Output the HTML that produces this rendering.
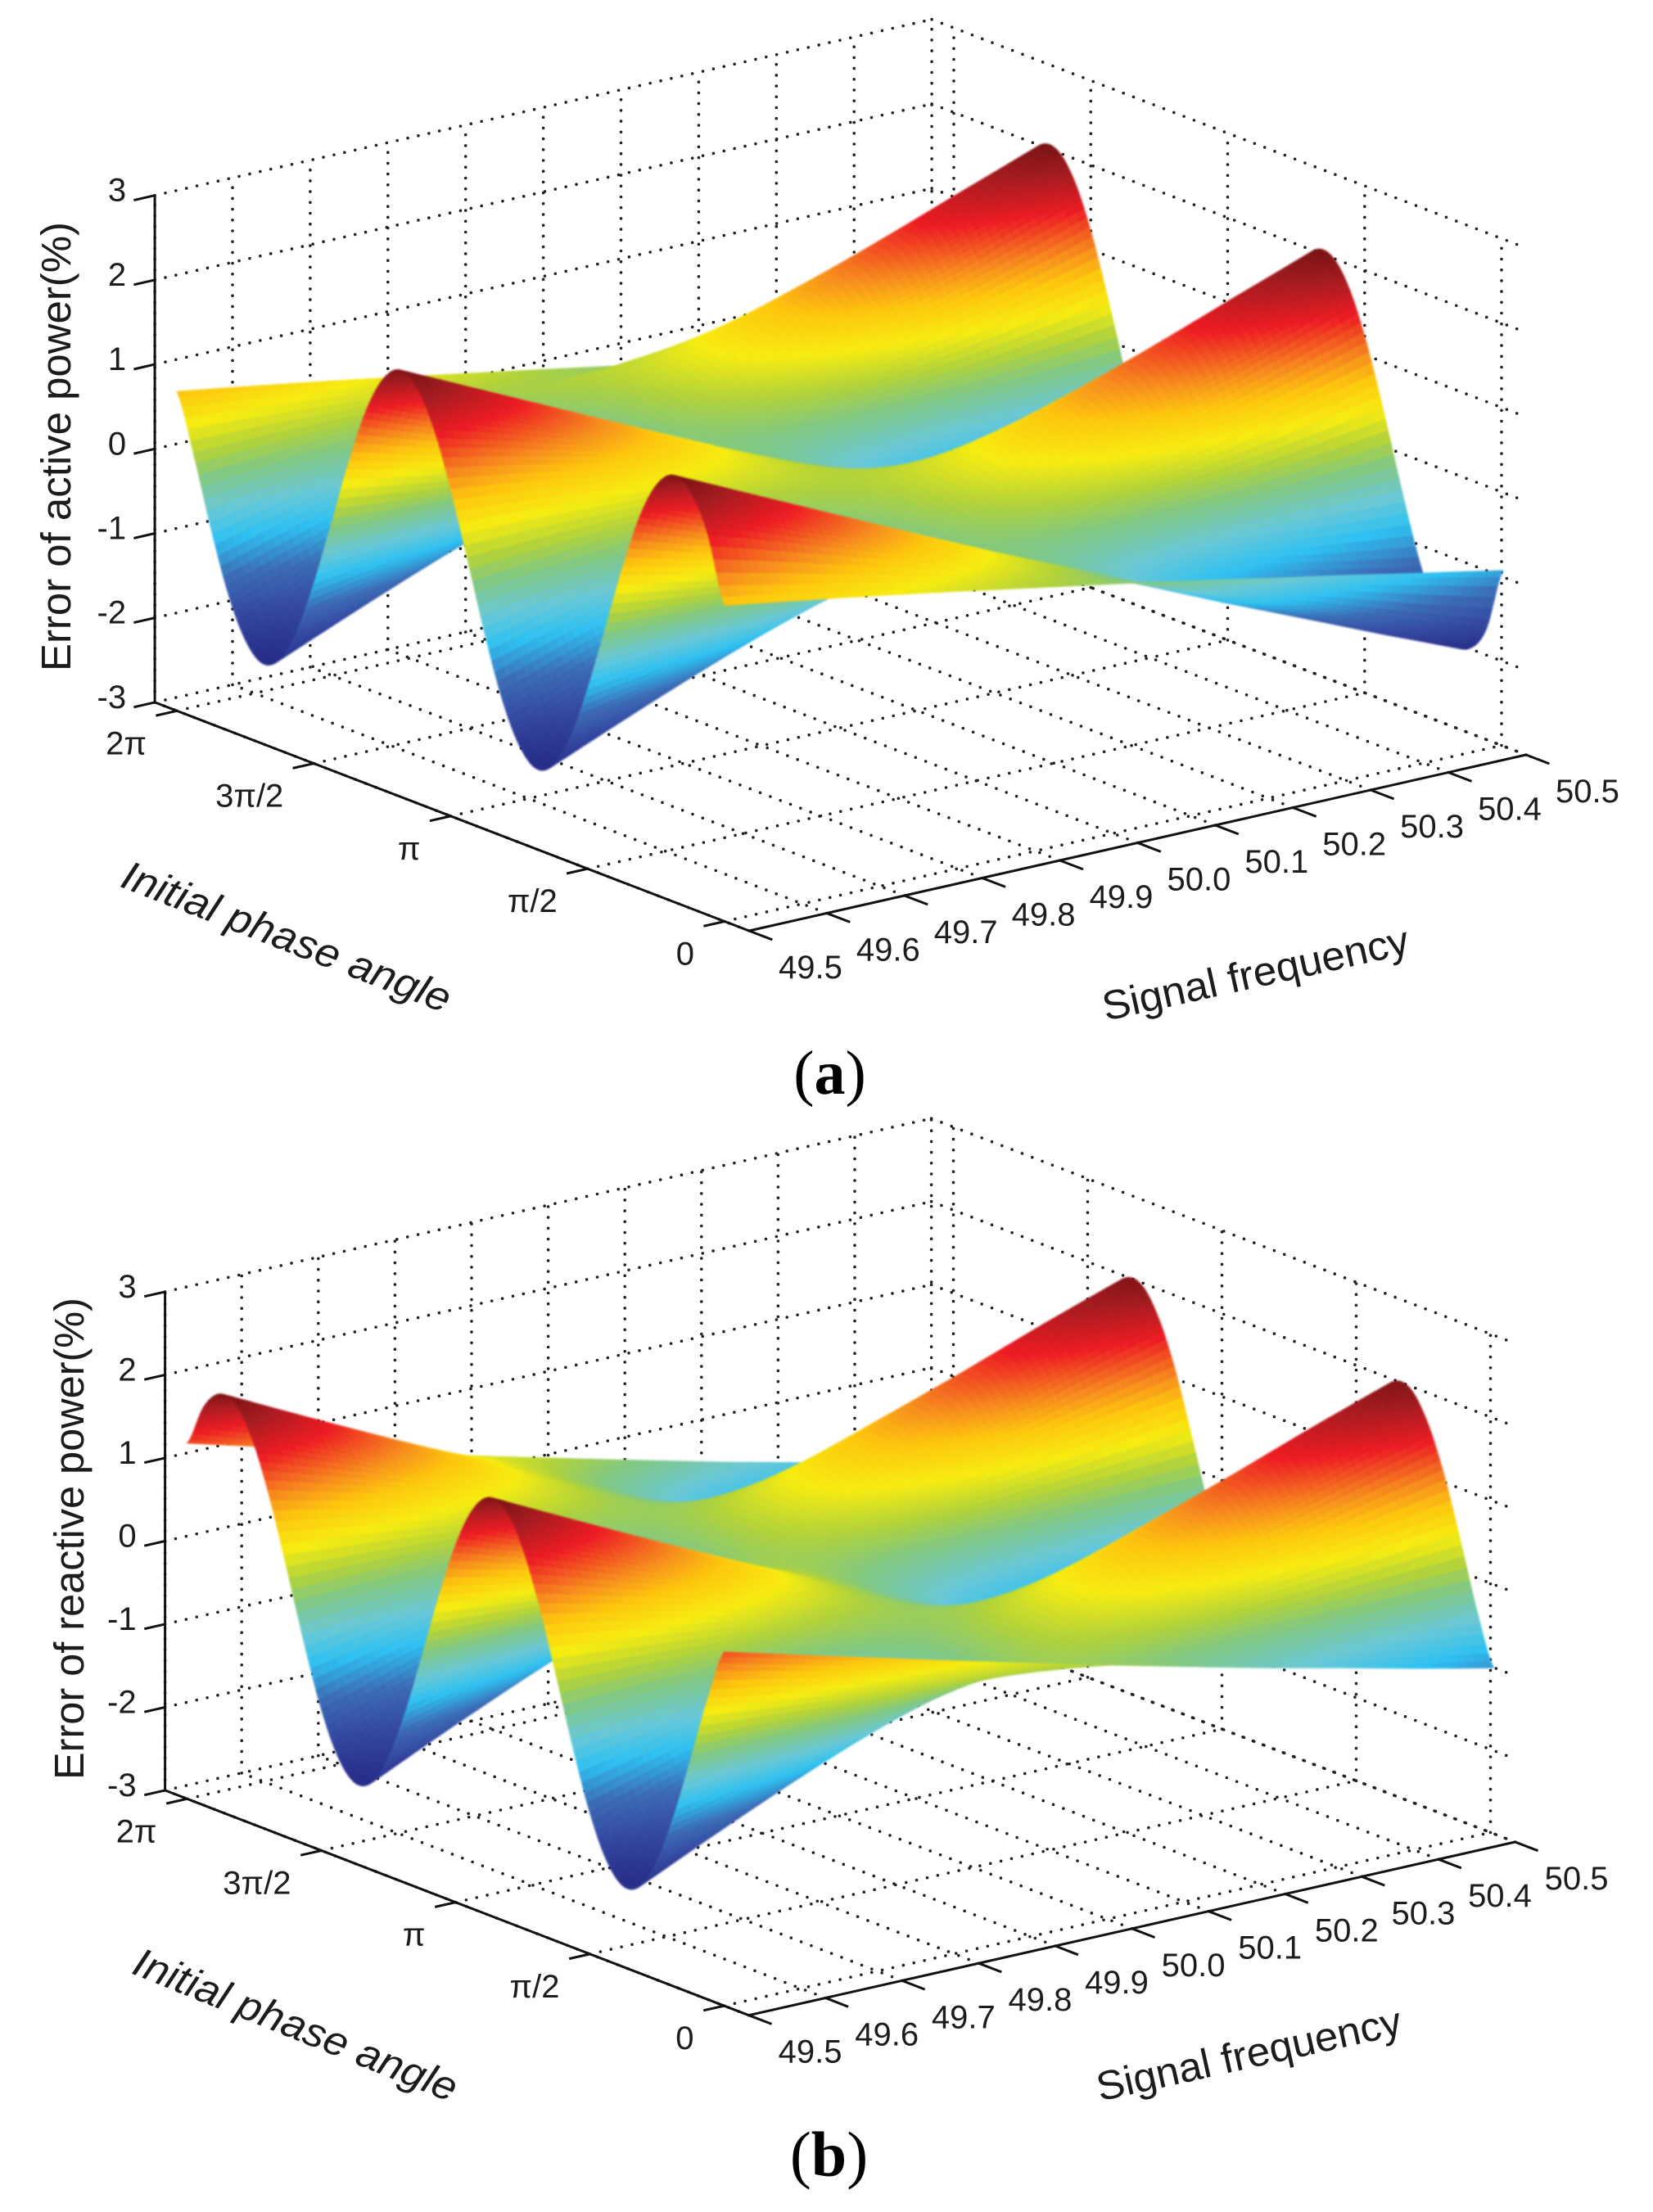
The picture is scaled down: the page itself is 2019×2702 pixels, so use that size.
<!DOCTYPE html>
<html lang="en">
<head>
<meta charset="utf-8">
<title>Error of active and reactive power surfaces</title>
<style>
html,body{margin:0;padding:0;background:#fff;}
body{width:2019px;height:2702px;overflow:hidden;}
svg{display:block;}
text{font-family:"Liberation Sans",sans-serif;fill:#1c1c1c;}
.cap{font-family:"Liberation Serif",serif;fill:#000;}
</style>
</head>
<body>
<svg id="figure" xmlns="http://www.w3.org/2000/svg" width="2019" height="2702" viewBox="0 0 2019 2702">
  <defs>
    <filter id="soft" x="-2%" y="-2%" width="104%" height="104%" color-interpolation-filters="sRGB">
      <feGaussianBlur stdDeviation="1"/>
    </filter>
  </defs>
  <rect width="2019" height="2702" fill="#fff"/>
  <g id="panel-a"></g>
  <g id="panel-b"></g>

  <text transform="translate(86,545.5) rotate(-90)" text-anchor="middle" font-size="51" textLength="549" lengthAdjust="spacingAndGlyphs">Error of active power(%)</text>
  <text transform="translate(349,1147) rotate(21.3)" x="0" y="14" text-anchor="middle" font-size="50" font-style="italic" textLength="427" lengthAdjust="spacingAndGlyphs">Initial phase angle</text>
  <text transform="translate(1534,1192) rotate(-12.5)" x="0" y="14" text-anchor="middle" font-size="50" textLength="382" lengthAdjust="spacingAndGlyphs">Signal frequency</text>
  <text class="cap" x="1013.5" y="1336" text-anchor="middle" font-size="76">(<tspan font-weight="bold">a</tspan>)</text>

  <text transform="translate(102,1879.5) rotate(-90)" text-anchor="middle" font-size="51" textLength="589" lengthAdjust="spacingAndGlyphs">Error of reactive power(%)</text>
  <text transform="translate(360,2476) rotate(22)" x="0" y="14" text-anchor="middle" font-size="50" font-style="italic" textLength="422" lengthAdjust="spacingAndGlyphs">Initial phase angle</text>
  <text transform="translate(1526,2512) rotate(-12.5)" x="0" y="14" text-anchor="middle" font-size="50" textLength="380" lengthAdjust="spacingAndGlyphs">Signal frequency</text>
  <text class="cap" x="1012.5" y="2658" text-anchor="middle" font-size="78">(<tspan font-weight="bold">b</tspan>)</text>
</svg>

<script>
// Tick values and labels
const frequencyTicks = [49.5, 49.6, 49.7, 49.8, 49.9, 50.0, 50.1, 50.2, 50.3, 50.4, 50.5];
const frequencyLabels = ['49.5', '49.6', '49.7', '49.8', '49.9', '50.0', '50.1', '50.2', '50.3', '50.4', '50.5'];
const phaseTicks = [0, 1, 2, 3, 4]; // units of pi/2
const phaseLabels = ['0', 'π/2', 'π', '3π/2', '2π'];
const errorTicks = [-3, -2, -1, 0, 1, 2, 3];

// Error (%) along the two frequency edges, sampled every pi/16 of initial phase from 0 to 2*pi
const activeErrorAt495 = [0.74, 1.52, 1.93, 2.05, 1.85, 1.38, 0.69, -0.10, -0.87, -1.52, -1.93, -2.05, -1.85, -1.38, -0.69, 0.10, 0.87, 1.52, 1.93, 2.05, 1.85, 1.38, 0.69, -0.10, -0.87, -1.52, -1.93, -2.05, -1.85, -1.38, -0.69, 0.10, 0.78];
const activeErrorAt505 = [-0.93, -1.71, -2.01, -2.01, -1.70, -1.13, -0.38, 0.42, 1.15, 1.71, 2.01, 2.01, 1.70, 1.13, 0.38, -0.42, -1.15, -1.71, -2.01, -2.01, -1.70, -1.13, -0.38, 0.42, 1.15, 1.71, 2.01, 2.01, 1.70, 1.13, 0.38, -0.42, -0.85];
const reactiveErrorAt495 = [1.26, 0.60, -0.19, -0.95, -1.57, -1.95, -2.03, -1.80, -1.30, -0.60, 0.19, 0.95, 1.57, 1.95, 2.03, 1.80, 1.30, 0.60, -0.19, -0.95, -1.57, -1.95, -2.03, -1.80, -1.30, -0.60, 0.19, 0.95, 1.57, 1.95, 2.03, 1.80, 1.28];
const reactiveErrorAt505 = [-1.02, -0.41, 0.37, 1.10, 1.65, 1.96, 1.96, 1.67, 1.12, 0.41, -0.37, -1.10, -1.65, -1.96, -1.96, -1.67, -1.12, -0.41, 0.37, 1.10, 1.65, 1.96, 1.96, 1.67, 1.12, 0.41, -0.37, -1.10, -1.65, -1.96, -1.96, -1.67, -1.05];

// Extra error (%) at mid frequency, sampled on the same phase steps
const activeMidBow = [0.08, 0.10, 0.08, -0.03, -0.13, -0.22, -0.27, -0.28, -0.25, -0.18, -0.08, 0.03, 0.13, 0.22, 0.27, 0.28, 0.25, 0.18, 0.08, -0.03, -0.13, -0.22, -0.27, -0.28, -0.25, -0.18, -0.08, 0.03, 0.13, 0.22, 0.27, 0.20, 0.08];
const reactiveMidBow = [-0.04, -0.11, -0.06, -0.01, 0.05, 0.10, 0.14, 0.15, 0.14, 0.11, 0.06, 0.01, -0.05, -0.10, -0.14, -0.15, -0.14, -0.11, -0.06, -0.01, 0.05, 0.10, 0.14, 0.15, 0.14, 0.11, 0.06, 0.01, -0.05, -0.10, -0.14, -0.10, -0.04];

// Share of the 50.5 Hz edge in the error at each frequency tick
const activeEdgeShare = [0, 0.105, 0.21, 0.315, 0.42, 0.52, 0.62, 0.72, 0.815, 0.91, 1];
const reactiveEdgeShare = [0, 0.1025, 0.205, 0.3075, 0.41, 0.51, 0.61, 0.71, 0.805, 0.905, 1];

// Colour ramp
const rampLevels = [-2.05, -1.6, -1.2, -0.82, -0.5, -0.15, 0.1, 0.42, 0.75, 1.0, 1.43, 1.8, 2.05];
const rampColors = [[38,43,134],[52,72,160],[60,108,181],[47,193,241],[106,200,214],[130,200,130],[176,210,60],[247,236,17],[253,198,14],[247,143,30],[237,28,36],[164,28,32],[122,19,21]];

const SVGNS = 'http://www.w3.org/2000/svg';

function rampColor(z) {
  if (z <= rampLevels[0]) return 'rgb(' + rampColors[0].join(',') + ')';
  for (let i = 1; i < rampLevels.length; i++) {
    if (z <= rampLevels[i]) {
      const w = (z - rampLevels[i - 1]) / (rampLevels[i] - rampLevels[i - 1]);
      const a = rampColors[i - 1], b = rampColors[i];
      return 'rgb(' + Math.round(a[0] + (b[0] - a[0]) * w) + ',' + Math.round(a[1] + (b[1] - a[1]) * w) + ',' + Math.round(a[2] + (b[2] - a[2]) * w) + ')';
    }
  }
  return 'rgb(' + rampColors[rampColors.length - 1].join(',') + ')';
}

function sampleCurve(arr, u) {
  // smooth rendering between the read samples; u is in units of pi/2
  const pos = u / 4 * (arr.length - 1);
  const i = Math.max(0, Math.min(arr.length - 2, Math.floor(pos)));
  const s = pos - i;
  const p0 = arr[Math.max(0, i - 1)], p1 = arr[i], p2 = arr[i + 1], p3 = arr[Math.min(arr.length - 1, i + 2)];
  return 0.5 * (2 * p1 + (p2 - p0) * s + (2 * p0 - 5 * p1 + 4 * p2 - p3) * s * s + (3 * p1 - p0 - 3 * p2 + p3) * s * s * s);
}

function sampleShare(arr, t) {
  const pos = Math.max(0, Math.min(arr.length - 1, t * (arr.length - 1)));
  const i = Math.min(arr.length - 2, Math.floor(pos));
  return arr[i] + (arr[i + 1] - arr[i]) * (pos - i);
}

function drawPanel(host, geo, edgeLow, edgeHigh, share, bow, prefix) {
  const fMin = frequencyTicks[0];
  const fMax = frequencyTicks[frequencyTicks.length - 1];
  const freqAxis = f => (f - fMin) / (fMax - fMin);
  const project = (t, u, z) => [
    geo.x0 + geo.tx * t - geo.ux * u,
    geo.y0 - geo.ty * t - geo.uy * u - (z + 3) * geo.zs
  ];
  const projectSurface = (t, u, z) => [
    geo.x0 + geo.surfaceTx * t - geo.ux * u,
    geo.y0 - geo.ty * t - geo.uy * u - (z + 3) * geo.zs
  ];

  const gridGroup = document.createElementNS(SVGNS, 'g');
  
  
  host.appendChild(gridGroup);

  const surfaceGroup = document.createElementNS(SVGNS, 'g');
  surfaceGroup.setAttribute('filter', 'url(#soft)');
  
  

  function line(a, b, parent, name, dotted) {
    const el = document.createElementNS(SVGNS, 'line');
    el.setAttribute('x1', a[0].toFixed(1));
    el.setAttribute('y1', a[1].toFixed(1));
    el.setAttribute('x2', b[0].toFixed(1));
    el.setAttribute('y2', b[1].toFixed(1));
    el.setAttribute('stroke', dotted ? '#222' : '#111');
    if (dotted) {
      el.setAttribute('stroke-width', '3.6');
      el.setAttribute('stroke-linecap', 'round');
      el.setAttribute('stroke-dasharray', '0 13.2');
    } else {
      el.setAttribute('stroke-width', '3');
    }
    
    
    parent.appendChild(el);
    return el;
  }

  function label(str, x, y, anchor, name) {
    const el = document.createElementNS(SVGNS, 'text');
    el.setAttribute('x', x.toFixed(1));
    el.setAttribute('y', y.toFixed(1));
    el.setAttribute('text-anchor', anchor);
    el.setAttribute('font-size', '40');
    el.textContent = str;
    
    
    host.appendChild(el);
    return el;
  }

  // Floor and wall grids
  frequencyTicks.forEach(f => {
    const t = freqAxis(f);
    line(project(t, geo.uMin, -3), project(t, geo.uMax, -3), gridGroup, 'floor-grid-line', true);
    line(project(t, geo.uMax, -3), project(t, geo.uMax, 3), gridGroup, 'back-wall-grid-line', true);
  });
  phaseTicks.forEach(u => {
    line(project(0, u, -3), project(1, u, -3), gridGroup, 'floor-grid-line', true);
    line(project(1, u, -3), project(1, u, 3), gridGroup, 'side-wall-grid-line', true);
  });
  errorTicks.forEach(z => {
    line(project(0, geo.uMax, z), project(1, geo.uMax, z), gridGroup, 'back-wall-grid-line', true);
    line(project(1, geo.uMax, z), project(1, geo.uMin, z), gridGroup, 'side-wall-grid-line', true);
  });

  // Surface, painted back to front
  host.appendChild(surfaceGroup);
  const nT = 90, nU = 200;
  const low = [], high = [], mid = [], blend = [];
  for (let j = 0; j <= nU; j++) {
    const u = 4 * j / nU;
    low.push(sampleCurve(edgeLow, u));
    high.push(sampleCurve(edgeHigh, u));
    mid.push(sampleCurve(bow, u));
  }
  for (let i = 0; i <= nT; i++) {
    blend.push(sampleShare(share, i / nT));
  }
  const zAt = (i, j) => {
    const t = i / nT;
    return low[j] + (high[j] - low[j]) * blend[i] + 4 * t * (1 - t) * mid[j];
  };
  for (let i = nT - 1; i >= 0; i--) {
    for (let j = nU - 1; j >= 0; j--) {
      const z00 = zAt(i, j), z10 = zAt(i + 1, j), z11 = zAt(i + 1, j + 1), z01 = zAt(i, j + 1);
      const p = [
        projectSurface(i / nT, 4 * j / nU, z00),
        projectSurface((i + 1) / nT, 4 * j / nU, z10),
        projectSurface((i + 1) / nT, 4 * (j + 1) / nU, z11),
        projectSurface(i / nT, 4 * (j + 1) / nU, z01)
      ];
      const c = rampColor((z00 + z10 + z11 + z01) / 4);
      const cell = document.createElementNS(SVGNS, 'polygon');
      cell.setAttribute('points', p.map(q => q[0].toFixed(1) + ',' + q[1].toFixed(1)).join(' '));
      cell.setAttribute('fill', c);
      cell.setAttribute('stroke', c);
      cell.setAttribute('stroke-width', '0.8');
      
      
      surfaceGroup.appendChild(cell);
    }
  }

  // Axes
  const axesGroup = document.createElementNS(SVGNS, 'g');
  
  
  host.appendChild(axesGroup);

  line(project(0, geo.uMax, -3), project(0, geo.uMax, 3), axesGroup, 'z-axis-line', false);
  line(project(0, geo.uMax, -3), project(0, geo.uMin, -3), axesGroup, 'phase-axis-line', false);
  line(project(0, geo.uMin, -3), project(1, geo.uMin, -3), axesGroup, 'frequency-axis-line', false);

  const backTick = 0.027, frontTick = 0.17;
  errorTicks.forEach(z => {
    const p = project(0, geo.uMax, z);
    line(p, project(-backTick, geo.uMax, z), axesGroup, 'z-axis-tick', false);
    label(String(z), p[0] - 35, p[1] + 7, 'end', 'z-tick-label');
  });
  phaseTicks.forEach((u, i) => {
    const p = project(0, u, -3);
    line(p, project(-backTick, u, -3), axesGroup, 'phase-axis-tick', false);
    label(phaseLabels[i], p[0] - 37, p[1] + 53, 'end', 'phase-tick-label');
  });
  frequencyTicks.forEach((f, i) => {
    const t = freqAxis(f);
    const p = project(t, geo.uMin, -3);
    line(p, project(t, geo.uMin - frontTick, -3), axesGroup, 'frequency-axis-tick', false);
    label(frequencyLabels[i], p[0] + 75, p[1] + 58, 'middle', 'frequency-tick-label');
  });
}

drawPanel(document.getElementById('panel-a'),
  { x0: 885, y0: 1125.5, tx: 949, surfaceTx: 951, ty: 215, ux: 167.25, uy: 64.3, zs: 103.2, uMin: -0.179, uMax: 4.161 },
  activeErrorAt495, activeErrorAt505, activeEdgeShare, activeMidBow, 'active');
drawPanel(document.getElementById('panel-b'),
  { x0: 884.5, y0: 2450.1, tx: 936, surfaceTx: 940, ty: 211.7, ux: 164, uy: 63.2, zs: 101.5, uMin: -0.1835, uMax: 4.164 },
  reactiveErrorAt495, reactiveErrorAt505, reactiveEdgeShare, reactiveMidBow, 'reactive');
</script>
</body>
</html>
